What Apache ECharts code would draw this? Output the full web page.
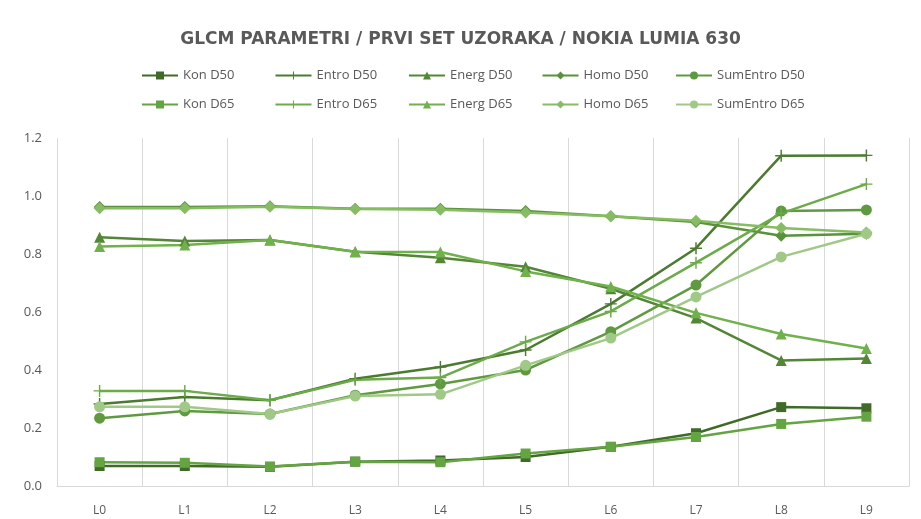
<!DOCTYPE html>
<html>
<head>
<meta charset="utf-8">
<script src="https://cdn.jsdelivr.net/npm/echarts@6/dist/echarts.min.js"></script>
<style>
    html, body { margin: 0; padding: 0; background: #fff; }
    #main { width: 921px; height: 519px; }
</style>
</head>
<body>
<div id="main"></div>
<script>
// kategorije (razine)
var categories = ['L0', 'L1', 'L2', 'L3', 'L4', 'L5', 'L6', 'L7', 'L8', 'L9'];

// D50
var konD50 = [0.069, 0.069, 0.066, 0.084, 0.088, 0.100, 0.135, 0.182, 0.272, 0.268];
var entroD50 = [0.283, 0.307, 0.296, 0.370, 0.410, 0.469, 0.628, 0.820, 1.139, 1.140];
var energD50 = [0.858, 0.845, 0.848, 0.808, 0.787, 0.756, 0.680, 0.579, 0.433, 0.440];
var homoD50 = [0.962, 0.962, 0.965, 0.956, 0.956, 0.948, 0.930, 0.910, 0.863, 0.870];
var sumEntroD50 = [0.234, 0.259, 0.248, 0.313, 0.352, 0.400, 0.532, 0.693, 0.948, 0.952];

// D65
var konD65 = [0.082, 0.080, 0.067, 0.084, 0.082, 0.112, 0.135, 0.169, 0.214, 0.239];
var entroD65 = [0.328, 0.328, 0.296, 0.366, 0.374, 0.497, 0.602, 0.770, 0.940, 1.041];
var energD65 = [0.826, 0.831, 0.848, 0.808, 0.807, 0.740, 0.688, 0.597, 0.524, 0.474];
var homoD65 = [0.958, 0.958, 0.963, 0.955, 0.953, 0.943, 0.930, 0.915, 0.890, 0.874];
var sumEntroD65 = [0.273, 0.273, 0.248, 0.310, 0.316, 0.416, 0.510, 0.652, 0.790, 0.870];

var yTicks = [0, 0.2, 0.4, 0.6, 0.8, 1.0, 1.2];

// simbol "+" (Excel plus marker)
var plusSymbol = 'path://M4.4,0h1.2v4.4h4.4v1.2h-4.4v4.4h-1.2v-4.4h-4.4v-1.2h4.4z';

var seriesDefs = [
    {name: 'Kon D50', data: konD50, color: '#3f6a28', symbol: 'rect', size: 10},
    {name: 'Entro D50', data: entroD50, color: '#4a7b30', symbol: plusSymbol, size: 12},
    {name: 'Energ D50', data: energD50, color: '#538637', symbol: 'triangle', size: 11},
    {name: 'Homo D50', data: homoD50, color: '#5a923c', symbol: 'diamond', size: 12},
    {name: 'SumEntro D50', data: sumEntroD50, color: '#5f9a40', symbol: 'circle', size: 11},
    {name: 'Kon D65', data: konD65, color: '#65a443', symbol: 'rect', size: 10},
    {name: 'Entro D65', data: entroD65, color: '#6cab49', symbol: plusSymbol, size: 12},
    {name: 'Energ D65', data: energD65, color: '#70b14c', symbol: 'triangle', size: 11},
    {name: 'Homo D65', data: homoD65, color: '#86bd63', symbol: 'diamond', size: 12},
    {name: 'SumEntro D65', data: sumEntroD65, color: '#a0c987', symbol: 'circle', size: 11}
];

// legenda u dva reda po pet stupaca
var legends = seriesDefs.map(function (s, i) {
    return {
        left: 141 + (i % 5) * 133.5,
        top: i < 5 ? 69 : 98,
        itemWidth: 36,
        itemHeight: 10,
        padding: 0,
        textStyle: {
            fontFamily: 'Open Sans',
            fontSize: 13,
            color: '#595959'
        },
        data: [s.name]
    };
});

var chart = echarts.init(document.getElementById('main'));

var option = {
    backgroundColor: '#fff',
    animation: false,
    title: {
        text: 'GLCM PARAMETRI / PRVI SET UZORAKA / NOKIA LUMIA 630',
        left: 'center',
        top: 26,
        textStyle: {
            fontFamily: 'DejaVu Sans',
            fontSize: 17,
            fontWeight: 'bold',
            color: '#595959'
        }
    },
    legend: legends,
    grid: {
        left: 57,
        right: 12,
        top: 138,
        bottom: 33
    },
    xAxis: {
        type: 'category',
        data: categories,
        boundaryGap: true,
        axisLine: {lineStyle: {color: '#d9d9d9', width: 1}},
        axisTick: {show: false},
        splitLine: {show: true, lineStyle: {color: '#d9d9d9', width: 1}},
        axisLabel: {
            color: '#595959',
            fontFamily: 'Open Sans',
            fontSize: 12,
            margin: 19
        }
    },
    yAxis: {
        type: 'value',
        min: yTicks[0],
        max: yTicks[yTicks.length - 1],
        interval: 0.2,
        axisLine: {show: false},
        axisTick: {show: false},
        splitLine: {show: false},
        axisLabel: {
            color: '#595959',
            fontFamily: 'Open Sans',
            fontSize: 13,
            margin: 15,
            formatter: function (v) { return v.toFixed(1); }
        }
    },
    series: seriesDefs.map(function (s) {
        return {
            name: s.name,
            type: 'line',
            data: s.data,
            symbol: s.symbol,
            symbolSize: s.size,
            showAllSymbol: true,
            itemStyle: {color: s.color},
            lineStyle: {color: s.color, width: 2.5}
        };
    })
};

chart.setOption(option);
</script>
</body>
</html>
